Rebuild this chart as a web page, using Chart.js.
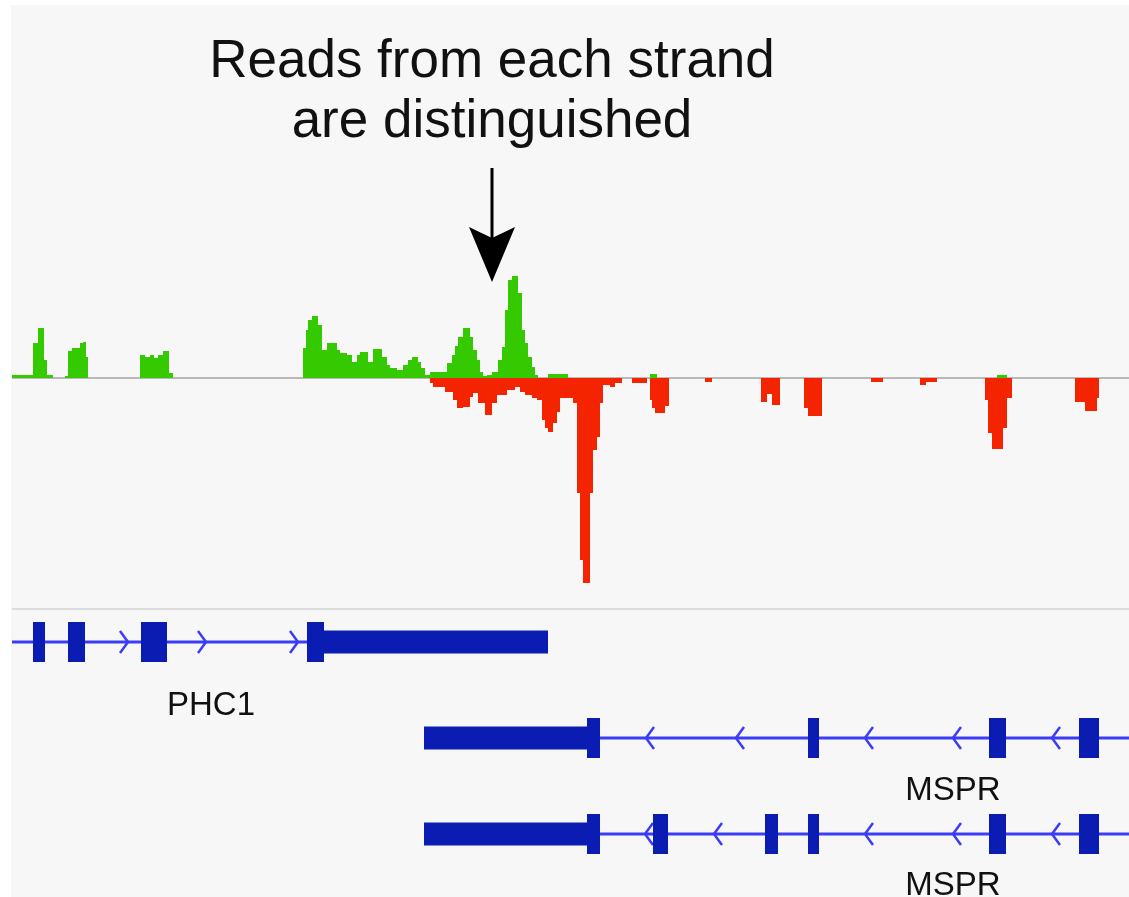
<!DOCTYPE html>
<html>
<head>
<meta charset="utf-8">
<script src="https://cdn.jsdelivr.net/npm/chart.js@4.4.1/dist/chart.umd.min.js"></script>
<style>
html, body { margin: 0; padding: 0; background: #fff; }
#page { position: relative; width: 1129px; height: 897px; overflow: hidden;
  font-family: "Liberation Sans", Arial, sans-serif; color: #111; }
#panel { position: absolute; left: 11px; top: 5px; right: 0; bottom: 0; background: #f7f7f7; }
#title { position: absolute; left: 492px; top: 29px; transform: translateX(-50%);
  font-size: 53px; line-height: 60px; text-align: center; white-space: nowrap; }
#covWrap { position: absolute; left: 12px; top: 0; }
#geneWrap { position: absolute; left: 12px; top: 609px; }
.glabel { position: absolute; font-size: 33px; line-height: 33px; white-space: nowrap; transform: translateX(-50%); }
</style>
</head>
<body>
<div id="page">
  <div id="panel"></div>
  <div id="covWrap"><canvas id="coverage" width="1117" height="620"></canvas></div>
  <div id="geneWrap"><canvas id="genes" width="1117" height="288"></canvas></div>
  <div id="title">Reads from each strand<br>are distinguished</div>
</div>
<script>
// coverage: each value holds from its start to the next start
var plusStart = [12, 33, 38, 44, 47, 53,
  65, 68, 72, 80, 83, 86, 88,
  140, 145, 150, 154, 158, 163, 169, 173,
  303, 306, 308, 312, 318, 322, 327, 337, 340, 347, 352, 357, 360, 368, 373, 382, 387, 390,
  397, 403, 408, 412, 418, 421, 425, 430, 447, 452, 455, 458, 463, 470, 473, 477, 480, 483,
  487, 492, 498, 502, 505, 508, 512, 518, 522, 525, 528, 532, 535, 538,
  548, 568, 650, 657, 997, 1007];
var plusDepth = [3, 35, 50, 18, 3, 0,
  2, 27, 30, 35, 36, 21, 0,
  23, 21, 23, 20, 23, 27, 5, 0,
  30, 48, 58, 62, 53, 28, 35, 28, 25, 23, 16, 23, 26, 16, 29, 21, 13, 10,
  8, 13, 18, 21, 16, 10, 3, 6, 15, 23, 32, 41, 50, 41, 28, 18, 6, 2,
  3, 6, 18, 31, 68, 98, 102, 85, 48, 35, 21, 11, 3, 0,
  4, 0, 4, 0, 3, 0];

var minusStart = [430, 433, 445, 453, 457, 463, 470, 473, 478, 485, 492, 497, 507, 515, 520,
  525, 532, 537, 542, 545, 548, 553, 557, 560, 573, 577, 580, 583, 590, 593, 597, 600, 603,
  610, 615, 622, 632, 647, 650, 652, 655, 665, 669, 705, 712,
  761, 767, 772, 780, 804, 808, 822, 871, 883, 920, 926, 937,
  985, 988, 992, 1003, 1007, 1012, 1075, 1085, 1097, 1099];
var minusDepth = [5, 9, 14, 22, 30, 29, 19, 15, 25, 37, 25, 17, 12, 9, 14,
  17, 20, 22, 42, 50, 54, 45, 34, 20, 25, 115, 182, 205, 115, 72, 59, 25, 7,
  9, 5, 0, 5, 0, 22, 30, 35, 28, 0, 4, 0,
  24, 16, 27, 0, 30, 38, 0, 4, 0, 7, 4, 0,
  22, 55, 71, 50, 20, 0, 24, 33, 20, 0];

// gene models
var geneNames = ['PHC1', 'MSPR', 'MSPR'];
var geneLabelAt = [211, 953, 953];
var geneSpan = [[0, 324], [600, 1140], [600, 1140]];
var geneUtr = [[[324, 548]], [[424, 587]], [[424, 587]]];
var geneExons = [
  [[33, 45], [68, 85], [141, 167], [307, 324]],
  [[587, 600], [808, 819], [989, 1006], [1079, 1099]],
  [[587, 600], [653, 668], [765, 778], [808, 819], [989, 1006], [1079, 1099]]
];
var geneStrand = ['+', '-', '-'];
var geneChevrons = [
  [124, 202, 294],
  [650, 740, 869, 957, 1056],
  [649, 718, 869, 957, 1056]
];

// arrow annotation (position, tail and tip in coverage units)
var arrowAt = 492, arrowTail = 210, arrowTip = 96;

var green = '#35c900', red = '#f42300';
var exonBlue = '#0a1cb2', intronBlue = '#3c3cf6';

function steps(starts, vals, sign) {
  return starts.map(function (s, i) { return { x: s, y: sign * vals[i] }; });
}

var arrowPlugin = {
  id: 'arrow',
  afterDraw: function (chart) {
    var c = chart.ctx, x = chart.scales.x.getPixelForValue(arrowAt);
    var y0 = chart.scales.y.getPixelForValue(arrowTail);
    var y1 = chart.scales.y.getPixelForValue(arrowTip);
    c.save();
    c.fillStyle = '#000';
    c.fillRect(x - 1.5, y0, 3, (y1 - y0) - 40);
    c.beginPath();
    c.moveTo(x - 23, y1 - 55);
    c.lineTo(x, y1 - 44);
    c.lineTo(x + 23, y1 - 55);
    c.lineTo(x, y1);
    c.closePath();
    c.fill();
    c.restore();
  }
};

new Chart(document.getElementById('coverage'), {
  type: 'line',
  data: {
    datasets: [
      { label: 'plus', data: steps(plusStart, plusDepth, 1), stepped: true, fill: 'origin',
        backgroundColor: green, borderColor: 'transparent', borderWidth: 0, pointRadius: 0 },
      { label: 'minus', data: steps(minusStart, minusDepth, -1), stepped: true, fill: 'origin',
        backgroundColor: red, borderColor: 'transparent', borderWidth: 0, pointRadius: 0 }
    ]
  },
  options: {
    responsive: false,
    animation: false,
    events: [],
    layout: { padding: 0, autoPadding: false },
    plugins: { legend: { display: false }, tooltip: { enabled: false } },
    scales: {
      x: { type: 'linear', min: 12, max: 1129, display: false },
      y: {
        min: -242, max: 378, z: 1,
        afterBuildTicks: function (s) { s.ticks = [{ value: 0 }, { value: -231 }]; },
        ticks: { display: false },
        border: { display: false },
        grid: {
          drawTicks: false,
          color: function (ctx) { return ctx.tick && ctx.tick.value === 0 ? '#b9b9b9' : '#dcdcdc'; },
          lineWidth: 2
        }
      }
    }
  },
  plugins: [arrowPlugin]
});

function chevron(right) {
  var c = document.createElement('canvas');
  c.width = 14; c.height = 26;
  var g = c.getContext('2d');
  g.strokeStyle = intronBlue; g.lineWidth = 2.5;
  g.beginPath();
  if (right) { g.moveTo(3, 2); g.lineTo(11, 13); g.lineTo(3, 24); }
  else { g.moveTo(11, 2); g.lineTo(3, 13); g.lineTo(11, 24); }
  g.stroke();
  return c;
}

function blocks(list, lane) {
  var pts = [];
  list.forEach(function (b) {
    pts.push({ x: b[0], y: lane }, { x: b[1], y: lane }, { x: b[1], y: null });
  });
  return pts;
}

var geneSets = [];
geneNames.forEach(function (name, i) {
  var lane = i + 1;
  geneSets.push({ data: blocks([geneSpan[i]], lane), borderColor: intronBlue, borderWidth: 3,
    pointRadius: 0, order: 3 });
  geneSets.push({ data: geneChevrons[i].map(function (x) { return { x: x, y: lane }; }),
    showLine: false, pointStyle: chevron(geneStrand[i] === '+'), pointRadius: 7, order: 2 });
  geneSets.push({ data: blocks(geneUtr[i], lane), borderColor: exonBlue, borderWidth: 23,
    pointRadius: 0, order: 1 });
  geneSets.push({ data: blocks(geneExons[i], lane), borderColor: exonBlue, borderWidth: 40,
    pointRadius: 0, order: 0 });
});

var geneChart = new Chart(document.getElementById('genes'), {
  type: 'line',
  data: { datasets: geneSets },
  options: {
    responsive: false,
    animation: false,
    events: [],
    layout: { padding: 0, autoPadding: false },
    spanGaps: false,
    elements: { line: { borderCapStyle: 'butt', tension: 0 } },
    plugins: { legend: { display: false }, tooltip: { enabled: false } },
    scales: {
      x: { type: 'linear', min: 12, max: 1129, display: false },
      y: { type: 'linear', min: 0.65625, max: 3.65625, reverse: true, display: false }
    }
  }
});

// gene name labels as page text, placed through the gene chart's scales
var labelDrop = [73, 62, 61];
var page = document.getElementById('page');
geneNames.forEach(function (name, i) {
  var d = document.createElement('div');
  d.className = 'glabel';
  d.textContent = name;
  var px = 12 + geneChart.scales.x.getPixelForValue(geneLabelAt[i]);
  var py = 609 + geneChart.scales.y.getPixelForValue(i + 1) + labelDrop[i] - 28;
  d.style.left = px + 'px';
  d.style.top = py + 'px';
  page.appendChild(d);
});
</script>
</body>
</html>
